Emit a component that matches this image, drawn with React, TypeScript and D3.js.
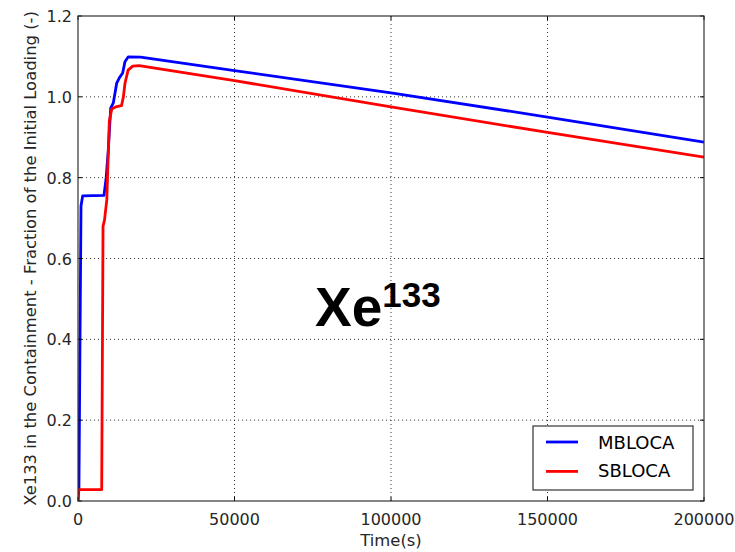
import React from "react";
import * as d3 from "d3";

// Time (s) and fraction of initial Xe133 loading in the containment
const mblocaTime = [0, 300, 640, 960, 1500, 8300, 9000, 9680, 10450, 11280, 12370, 13200, 14280, 15000, 16070, 20000, 50000, 100000, 150000, 200000];
const mblocaValue = [0, 0.03, 0.4, 0.73, 0.755, 0.756, 0.8, 0.868, 0.972, 0.985, 1.034, 1.047, 1.059, 1.087, 1.099, 1.098, 1.065, 1.01, 0.95, 0.888];

const sblocaTime = [0, 100, 7570, 8000, 8470, 9200, 10000, 10800, 12000, 13900, 14500, 15000, 16000, 17500, 19500, 50000, 100000, 150000, 200000];
const sblocaValue = [0, 0.028, 0.028, 0.68, 0.695, 0.745, 0.94, 0.97, 0.975, 0.978, 1.0, 1.033, 1.066, 1.076, 1.077, 1.04, 0.975, 0.912, 0.851];

const seriesNames = ["MBLOCA", "SBLOCA"];
const seriesColors = ["#0000ff", "#ff0000"];

const xTicks = [0, 50000, 100000, 150000, 200000];
const yTicks = [0, 0.2, 0.4, 0.6, 0.8, 1.0, 1.2];

const W = 735;
const H = 552;
const left = 78;
const right = 704;
const top = 16;
const bottom = 501;

export default function App() {
  const x = d3.scaleLinear().domain([0, 200000]).range([left, right]);
  const y = d3.scaleLinear().domain([0, 1.2]).range([bottom, top]);

  const line = d3
    .line<[number, number]>()
    .x((d) => x(d[0]))
    .y((d) => y(d[1]));

  const series = [
    mblocaTime.map((t, i) => [t, mblocaValue[i]] as [number, number]),
    sblocaTime.map((t, i) => [t, sblocaValue[i]] as [number, number]),
  ];

  const font = "DejaVu Sans, sans-serif";
  const textColor = "#262626";

  return (
    <svg
      width={W}
      height={H}
      style={{ position: "absolute", left: 0, top: 0, background: "#fff" }}
    >
      <defs>
        <clipPath id="plotClip">
          <rect x={left} y={top} width={right - left} height={bottom - top} />
        </clipPath>
      </defs>

      {/* grid */}
      {xTicks.slice(1, -1).map((t) => (
        <line key={"gx" + t} x1={x(t)} x2={x(t)} y1={top} y2={bottom} stroke="#000" strokeWidth={0.8} strokeDasharray="1,3" />
      ))}
      {yTicks.slice(1, -1).map((t) => (
        <line key={"gy" + t} x1={left} x2={right} y1={y(t)} y2={y(t)} stroke="#000" strokeWidth={0.8} strokeDasharray="1,3" />
      ))}

      {/* series */}
      <g clipPath="url(#plotClip)">
        {series.map((s, i) => (
          <path key={i} d={line(s) || ""} fill="none" stroke={seriesColors[i]} strokeWidth={2.8} strokeLinejoin="round" />
        ))}
      </g>

      {/* ticks (inward, all sides) */}
      {xTicks.map((t) => (
        <g key={"tx" + t}>
          <line x1={x(t)} x2={x(t)} y1={bottom} y2={bottom - 4} stroke="#000" />
          <line x1={x(t)} x2={x(t)} y1={top} y2={top + 4} stroke="#000" />
          <text x={x(t)} y={525} textAnchor="middle" fontFamily={font} fontSize={16} fill={textColor}>
            {t}
          </text>
        </g>
      ))}
      {yTicks.map((t) => (
        <g key={"ty" + t}>
          <line x1={left} x2={left + 4} y1={y(t)} y2={y(t)} stroke="#000" />
          <line x1={right} x2={right - 4} y1={y(t)} y2={y(t)} stroke="#000" />
          <text x={72} y={y(t) + 6} textAnchor="end" fontFamily={font} fontSize={16} fill={textColor}>
            {t.toFixed(1)}
          </text>
        </g>
      ))}

      {/* frame */}
      <rect x={left} y={top} width={right - left} height={bottom - top} fill="none" stroke="#333" strokeWidth={1.2} />

      {/* axis labels */}
      <text x={(left + right) / 2} y={546} textAnchor="middle" fontFamily={font} fontSize={16.4} fill={textColor}>
        Time(s)
      </text>
      <text
        transform={`translate(36, ${(top + bottom) / 2}) rotate(-90)`}
        textAnchor="middle"
        fontFamily={font}
        fontSize={16.4}
        fill={textColor}
      >
        Xe133 in the Containment - Fraction of the Initial Loading (-)
      </text>

      {/* annotation */}
      <text x={315} y={326} fontFamily="Liberation Sans, Arial, sans-serif" fontWeight="bold" fontSize={55} fill="#000">
        Xe
        <tspan dy={-19} fontSize={35}>133</tspan>
      </text>

      {/* legend */}
      <rect x={533} y={426} width={160} height={64} fill="#fff" stroke="#333" strokeWidth={1.2} />
      {seriesNames.map((n, i) => (
        <g key={n}>
          <line x1={546} x2={578} y1={442 + i * 29.4} y2={442 + i * 29.4} stroke={seriesColors[i]} strokeWidth={2.8} />
          <text x={598} y={448.5 + i * 28.4} fontFamily={font} fontSize={18} fill="#000">
            {n}
          </text>
        </g>
      ))}
    </svg>
  );
}
